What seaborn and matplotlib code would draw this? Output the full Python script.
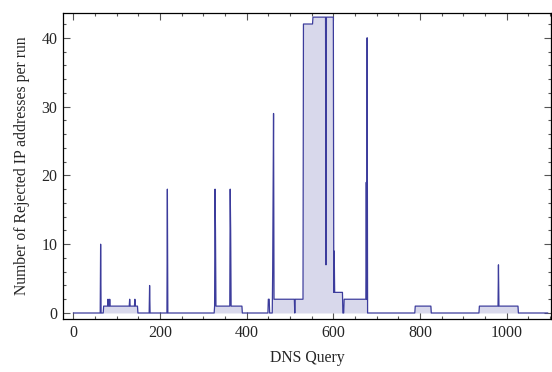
import matplotlib
matplotlib.use("Agg")
import matplotlib.pyplot as plt
import seaborn as sns
import pandas as pd
from matplotlib.ticker import MultipleLocator

# vertices of the joined per-query curve (query index, rejected IPs)
query = [0, 62, 63, 64, 69, 70, 79, 80, 81, 83, 84, 85, 129, 130, 131, 141, 142, 143,
         148, 149, 175, 176, 177, 216, 217, 218, 325, 326, 327, 328, 329, 361, 362, 363,
         364, 389, 390, 449, 450, 452, 453, 459, 460, 462, 463, 510, 511, 512, 530, 531,
         552, 553, 582, 583, 584, 600, 601, 602, 603, 621, 622, 624, 625, 675, 676, 677,
         678, 679, 788, 789, 825, 826, 936, 937, 980, 981, 982, 1026, 1027, 1095]
rejected = [0, 0, 10, 0, 0, 1, 1, 2, 1, 1, 2, 1, 1, 2, 1, 1, 2, 1,
            1, 0, 0, 4, 0, 0, 18, 0, 0, 1, 18, 12, 1, 1, 18, 12,
            1, 1, 0, 0, 2, 2, 0, 0, 6, 29, 2, 2, 0, 2, 2, 42,
            42, 43, 43, 7, 43, 43, 3, 9, 3, 3, 0, 0, 2, 2, 19, 2,
            40, 0, 0, 1, 1, 0, 0, 1, 1, 7, 1, 1, 0, 0]

df = pd.DataFrame({"query": query, "rejected": rejected})

sns.set_style("ticks")
plt.rcParams["font.family"] = ["Liberation Serif", "DejaVu Serif"]

line_col = "#3c3c9c"
fill_col = "#d8d8eb"

fig = plt.figure(figsize=(5.52, 3.72), dpi=100)
ax = fig.add_axes([0.114, 0.1425, 0.884, 0.8225])

ax.fill_between(df["query"], df["rejected"], 0, color=fill_col, linewidth=0)
sns.lineplot(data=df, x="query", y="rejected", estimator=None, sort=False,
             color=line_col, linewidth=0.9, ax=ax)

ax.set_xlim(-24, 1102)
ax.set_ylim(-0.87, 43.6)
ax.xaxis.set_major_locator(MultipleLocator(200))
ax.xaxis.set_minor_locator(MultipleLocator(50))
ax.yaxis.set_major_locator(MultipleLocator(10))
ax.yaxis.set_minor_locator(MultipleLocator(2))
ax.tick_params(which="both", direction="in", top=True, right=True,
               color="#555555", labelsize=11.5, width=0.8)
ax.tick_params(which="major", length=5, pad=4)
ax.tick_params(which="minor", length=2.5)
for s in ax.spines.values():
    s.set_linewidth(0.9)
    s.set_color("black")

ax.set_xlabel("DNS Query", fontsize=11.3, labelpad=7)
ax.set_ylabel("Number of Rejected IP addresses per run", fontsize=11.3, labelpad=8)

fig.savefig("out.png", dpi=100)
